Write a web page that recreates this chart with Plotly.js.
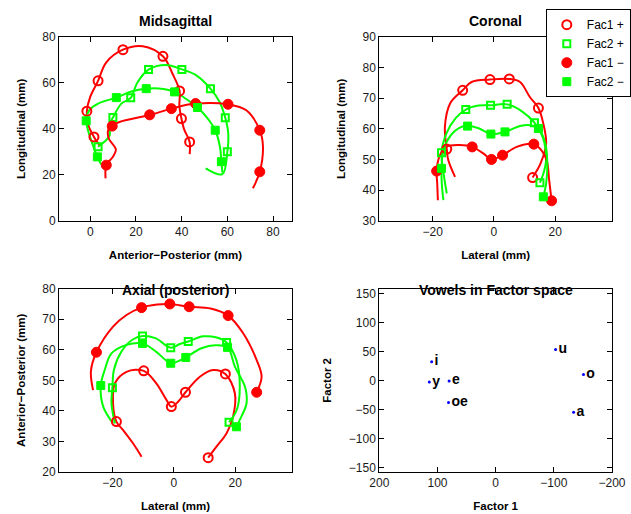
<!DOCTYPE html>
<html>
<head>
<meta charset="utf-8">
<script src="https://cdn.plot.ly/plotly-3.0.1.min.js"></script>
<style>html,body{margin:0;padding:0;background:#fff;}#chart{width:631px;height:514px;}</style>
</head>
<body>
<div id="chart"></div>
<script>
// ===== Midsagittal (x: anterior-posterior, y: longitudinal) =====
const midF1pLineX = [43.5, 43.5, 41, 39.9, 39, 39.1, 36, 31.8, 23, 14.3, 7, 3.4, 0, -1.5, -1, 1.6, 4];
const midF1pLineY = [29, 34.3, 40, 44.5, 50, 56.5, 64, 71.6, 76, 74.5, 69, 60.9, 54, 47.7, 42, 36.5, 33];
const midF1pMarkX = [-1.5, 1.6, 3.4, 14.3, 31.8, 39.1, 39.9, 43.5];
const midF1pMarkY = [47.7, 36.5, 60.9, 74.5, 71.6, 56.5, 44.5, 34.3];

const midF2pLineX = [3.4, 8.5, 8.2, 9.9, 13.6, 17.7, 20.5, 25.5, 33, 40.1, 46.4, 52.6, 56.6, 59.1, 60.4, 60.0, 57.8, 50.5];
const midF2pLineY = [32.2, 37.2, 41.5, 44.9, 51, 53.5, 60, 65.8, 67.8, 65.9, 63.3, 57.5, 51.7, 44.8, 38, 30.0, 20.3, 22.8];
const midF2pMarkX = [3.4, 9.9, 17.7, 25.5, 40.1, 52.6, 59.1, 60.0];
const midF2pMarkY = [32.2, 44.9, 53.5, 65.8, 65.9, 57.5, 44.8, 30.0];

const midF1mLineX = [6.7, 7.0, 10, 11.2, 8, 8, 9.6, 12.8, 26, 35.5, 46.1, 60.3, 68.3, 74.2, 75.6, 74.2, 71.2];
const midF1mLineY = [18.4, 24.2, 28, 31, 36, 40, 41.5, 43.0, 46, 48.8, 51, 50.7, 48.1, 39.4, 32.2, 21.3, 14.1];
const midF1mMarkX = [7.0, 9.6, 26.0, 35.5, 46.1, 60.3, 74.2, 74.2];
const midF1mMarkY = [24.2, 41.2, 46.1, 48.8, 51.0, 50.7, 39.4, 21.3];

const midF2mLineX = [4.8, 3.1, 0.4, -1.0, -1.8, -0.5, 3.4, 11.4, 18, 24.5, 30, 36.9, 42, 46.9, 51, 54.7, 56.8, 57.4, 57.8];
const midF2mLineY = [24.5, 27.8, 35, 39.4, 43.5, 48, 51, 53.6, 56.3, 57.5, 57.6, 56.1, 53, 49.3, 45, 39.4, 32, 25.7, 21];
const midF2mMarkX = [-1.8, 3.1, 11.4, 24.5, 36.9, 46.9, 54.7, 57.4];
const midF2mMarkY = [43.5, 27.8, 53.6, 57.5, 56.1, 49.3, 39.4, 25.7];

// ===== Coronal (x: lateral, y: longitudinal) =====
const corF1pLineX = [-12.7, -14.9, -15.4, -16, -14.3, -10.2, -7.3, -1.3, 5.0, 8.5, 11.7, 14.5, 16.1, 17.0, 15.2, 12.6];
const corF1pLineY = [44.3, 49.8, 53.4, 60.7, 68.3, 72.6, 75.3, 76.1, 76.3, 75.3, 70.4, 66.8, 61.7, 55.2, 48.7, 44.1];
const corF1pMarkX = [-15.4, -10.2, -1.3, 5.0, 14.5, 12.6];
const corF1pMarkY = [53.4, 72.6, 76.1, 76.3, 66.8, 44.1];

const corF2pLineX = [-15.4, -16.5, -17.1, -15.5, -12.5, -9.2, -5, -1.1, 4.3, 9, 13.2, 16.0, 17.0, 16.3, 15.0];
const corF2pLineY = [38.9, 46, 52.2, 58.5, 63.5, 66.3, 67.6, 67.7, 68.0, 65.8, 62.0, 57, 50, 46, 42.4];
const corF2pMarkX = [-17.1, -9.2, -1.1, 4.3, 13.2, 15.0];
const corF2pMarkY = [52.2, 66.3, 67.7, 68.0, 62.0, 42.4];

const corF1mLineX = [-18.3, -18.5, -18.7, -17.8, -15.7, -11.1, -7.1, -3.5, -0.8, 2.8, 7.4, 13.0, 15.5, 17.2, 18.0, 18.8];
const corF1mLineY = [36.7, 42, 46.2, 50.9, 54.1, 54.7, 54.1, 52, 50.0, 51.4, 54.1, 55.0, 53.0, 49.8, 43.3, 36.5];
const corF1mMarkX = [-18.7, -7.1, -0.8, 2.8, 13.0, 18.8];
const corF1mMarkY = [46.2, 54.1, 50.0, 51.4, 55.0, 36.5];

const corF2mLineX = [-16.5, -17.0, -17.1, -16.5, -14, -11, -8.6, -5, -1.0, 3.6, 8.5, 11.7, 14.5, 16.8, 17.4, 17.0, 16.1];
const corF2mLineY = [36.7, 42, 47.1, 53, 58, 60.5, 60.9, 60.2, 58.3, 59.0, 60.9, 61.2, 60.1, 55, 48, 42, 37.8];
const corF2mMarkX = [-17.1, -8.6, -1.0, 3.6, 14.5, 16.1];
const corF2mMarkY = [47.1, 60.9, 58.3, 59.0, 60.1, 37.8];

// ===== Axial (posterior) (x: lateral, y: anterior-posterior) =====
const axF1pLineX = [-10.5, -13.3, -16.5, -18.7, -19.8, -19.2, -15.4, -9.8, -5.7, -2.4, -0.8, 1.4, 3.8, 8.5, 12.8, 16.8, 19.9, 19.3, 17.2, 13.9, 11.2];
const axF1pLineY = [25.0, 29.4, 33.7, 36.5, 42.5, 49, 52.8, 53.1, 49, 43.6, 41.4, 43.0, 46.1, 51.2, 53.4, 52.1, 45.7, 38.1, 32.7, 28.3, 24.7];
const axF1pMarkX = [-18.7, -9.8, -0.8, 3.8, 16.8, 11.2];
const axF1pMarkY = [36.5, 53.1, 41.4, 46.1, 52.1, 24.7];

const axF2pLineX = [-19.2, -20.3, -20.0, -19.5, -17, -13.5, -10.2, -6, -1.0, 1.8, 4.7, 9.6, 14, 17.2, 20.4, 21.5, 20.5, 18.0];
const axF2pLineY = [35.9, 42.4, 47.6, 53.5, 59.5, 63.3, 64.5, 63.8, 60.7, 61.8, 62.7, 64.4, 64.0, 62.4, 56.6, 47.9, 40.3, 36.3];
const axF2pMarkX = [-20.0, -10.2, -1.0, 4.7, 17.2, 18.0];
const axF2pMarkY = [47.6, 64.5, 60.7, 62.7, 62.4, 36.3];

const axF1mLineX = [-26.3, -27, -25.2, -19.8, -15.4, -10.5, -5.5, -1.3, 5.0, 12, 17.7, 22.6, 27.0, 28.6, 27.0];
const axF1mLineY = [46.8, 53, 59.2, 67.6, 71.4, 73.8, 74.8, 75.0, 74.1, 73.5, 71.2, 65.4, 56.6, 51.2, 46.1];
const axF1mMarkX = [-25.2, -10.5, -1.3, 5.0, 17.7, 27.0];
const axF1mMarkY = [59.2, 73.8, 75.0, 74.1, 71.2, 46.1];

const axF2mLineX = [-19.8, -23.0, -23.8, -22.5, -20.3, -15.4, -10.2, -5.7, -1.0, 1.5, 3.9, 9, 13.5, 17.5, 19.9, 23.2, 23.7, 22.0, 20.4];
const axF2mLineY = [35.9, 41.4, 48.3, 53.4, 58.8, 61.6, 62.1, 59.3, 55.6, 56.3, 57.5, 60.5, 61.5, 60.8, 54.5, 47.9, 42.5, 38.1, 34.8];
const axF2mMarkX = [-23.8, -10.2, -1.0, 3.9, 17.5, 20.4];
const axF2mMarkY = [48.3, 62.1, 55.6, 57.5, 60.8, 34.8];

// ===== Vowels in Factor space =====
const vowelLabels = ['i', 'y', 'e', 'oe', 'u', 'o', 'a'];
const vowelFactor1 = [110, 114, 80, 81, -103, -151, -134];
const vowelFactor2 = [32, -3, -1, -38, 53, 10, -55];

// ===== Tick labels =====
const midTicks = [0, 20, 40, 60, 80];
const latTicks = [-20, 0, 20];
const corYTicks = [30, 40, 50, 60, 70, 80, 90];
const axYTicks = [20, 30, 40, 50, 60, 70, 80];
const f1Ticks = [200, 100, 0, -100, -200];
const f2Ticks = [-150, -100, -50, 0, 50, 100, 150];

// ===== Build =====
const FONT = 'Liberation Sans, Arial, Helvetica, sans-serif';
const RED = '#ff0000', GREEN = '#00ff00';
const styles = {
  f1p: {name: 'Fac1 +', color: RED, symbol: 'circle-open', size: 9, lw: 2},
  f2p: {name: 'Fac2 +', color: GREEN, symbol: 'square-open', size: 7, lw: 2},
  f1m: {name: 'Fac1 \u2212', color: RED, symbol: 'circle', size: 10, lw: 1},
  f2m: {name: 'Fac2 \u2212', color: GREEN, symbol: 'square', size: 8, lw: 1}
};
const lineTraces = [];
const markTraces = [];
function addCurve(key, lx, ly, mx, my, xa, ya, inLegend) {
  const s = styles[key];
  lineTraces.push({x: lx, y: ly, xaxis: xa, yaxis: ya, mode: 'lines', showlegend: false, hoverinfo: 'skip',
    line: {color: s.color, width: 2, shape: 'spline', smoothing: 1}});
  markTraces.push({x: mx, y: my, xaxis: xa, yaxis: ya, mode: 'markers', name: s.name, legendgroup: key,
    showlegend: inLegend, cliponaxis: false,
    marker: {symbol: s.symbol, size: s.size, color: s.color, line: {color: s.color, width: s.lw}}});
}
addCurve('f1p', midF1pLineX, midF1pLineY, midF1pMarkX, midF1pMarkY, 'x', 'y', true);
addCurve('f2p', midF2pLineX, midF2pLineY, midF2pMarkX, midF2pMarkY, 'x', 'y', true);
addCurve('f1m', midF1mLineX, midF1mLineY, midF1mMarkX, midF1mMarkY, 'x', 'y', true);
addCurve('f2m', midF2mLineX, midF2mLineY, midF2mMarkX, midF2mMarkY, 'x', 'y', true);

addCurve('f1p', corF1pLineX, corF1pLineY, corF1pMarkX, corF1pMarkY, 'x2', 'y2', false);
addCurve('f2p', corF2pLineX, corF2pLineY, corF2pMarkX, corF2pMarkY, 'x2', 'y2', false);
addCurve('f1m', corF1mLineX, corF1mLineY, corF1mMarkX, corF1mMarkY, 'x2', 'y2', false);
addCurve('f2m', corF2mLineX, corF2mLineY, corF2mMarkX, corF2mMarkY, 'x2', 'y2', false);

addCurve('f1p', axF1pLineX, axF1pLineY, axF1pMarkX, axF1pMarkY, 'x3', 'y3', false);
addCurve('f2p', axF2pLineX, axF2pLineY, axF2pMarkX, axF2pMarkY, 'x3', 'y3', false);
addCurve('f1m', axF1mLineX, axF1mLineY, axF1mMarkX, axF1mMarkY, 'x3', 'y3', false);
addCurve('f2m', axF2mLineX, axF2mLineY, axF2mMarkX, axF2mMarkY, 'x3', 'y3', false);

const vowelTrace = {
  x: vowelFactor1, y: vowelFactor2, text: vowelLabels, xaxis: 'x4', yaxis: 'y4',
  mode: 'markers+text', textposition: 'middle right', showlegend: false, cliponaxis: false,
  marker: {color: '#0000ff', size: 3},
  textfont: {family: FONT, size: 14, weight: 'bold', color: '#000'}
};

const data = lineTraces.concat(markTraces).concat([vowelTrace]);

function ax(extra, titleText, standoff) {
  return Object.assign({
    showgrid: false, zeroline: false, showline: true, linecolor: '#000', linewidth: 1,
    mirror: 'ticks', ticks: 'inside', ticklen: 5, tickcolor: '#000', tickwidth: 1,
    tickfont: {family: FONT, size: 12, color: '#1a1a1a'}, fixedrange: true,
    title: {text: titleText, standoff: standoff, font: {family: FONT, size: 11.5, weight: 'bold', color: '#000'}}
  }, extra);
}
const TOP = [0.5777, 1], BOT = [0, 0.4214], LEFT = [0, 0.4213], RIGHT = [0.5792, 1];
const titleFont = {family: FONT, size: 14, weight: 'bold', color: '#000'};

const layout = {
  width: 631, height: 514,
  margin: {l: 59, r: 19, t: 37, b: 42, pad: 0, autoexpand: false},
  paper_bgcolor: '#fff', plot_bgcolor: '#fff',
  font: {family: FONT, color: '#000'},
  showlegend: true,
  legend: {x: 1.034, xanchor: 'right', y: 1.064, yanchor: 'top', bgcolor: '#fff', bordercolor: '#000', borderwidth: 1,
    font: {family: FONT, size: 12, color: '#000'}, traceorder: 'normal', tracegroupgap: 0},
  xaxis: ax({domain: LEFT, anchor: 'y', range: [-13.7, 88.3], tickvals: midTicks}, 'Anterior\u2212Posterior (mm)', 12),
  yaxis: ax({domain: TOP, anchor: 'x', range: [0, 80], tickvals: midTicks}, 'Longitudinal (mm)', 14),
  xaxis2: ax({domain: RIGHT, anchor: 'y2', range: [-37.4, 38.5], tickvals: latTicks}, 'Lateral (mm)', 12),
  yaxis2: ax({domain: TOP, anchor: 'x2', range: [30, 90], tickvals: corYTicks}, 'Longitudinal (mm)', 14),
  xaxis3: ax({domain: LEFT, anchor: 'y3', range: [-37.4, 38.5], tickvals: latTicks}, 'Lateral (mm)', 12),
  yaxis3: ax({domain: BOT, anchor: 'x3', range: [20, 80], tickvals: axYTicks}, 'Anterior\u2212Posterior (mm)', 14),
  xaxis4: ax({domain: RIGHT, anchor: 'y4', range: [200, -200], tickvals: f1Ticks}, 'Factor 1', 12),
  yaxis4: ax({domain: BOT, anchor: 'x4', range: [-158, 158], tickvals: f2Ticks}, 'Factor 2', 14),
  annotations: [
    {text: 'Midsagittal', xref: 'x domain', yref: 'y domain', x: 0.5, y: 1.085, xanchor: 'center', yanchor: 'middle', showarrow: false, font: titleFont},
    {text: 'Coronal', xref: 'x2 domain', yref: 'y2 domain', x: 0.5, y: 1.085, xanchor: 'center', yanchor: 'middle', showarrow: false, font: titleFont},
    {text: 'Axial (posterior)', xref: 'x3 domain', yref: 'y3 domain', x: 0.5, y: 0.993, xanchor: 'center', yanchor: 'middle', showarrow: false, font: titleFont},
    {text: 'Vowels in Factor space', xref: 'x4 domain', yref: 'y4 domain', x: 0.5, y: 0.993, xanchor: 'center', yanchor: 'middle', showarrow: false, font: titleFont}
  ]
};

Plotly.newPlot('chart', data, layout, {displayModeBar: false, staticPlot: true});
</script>
</body>
</html>
